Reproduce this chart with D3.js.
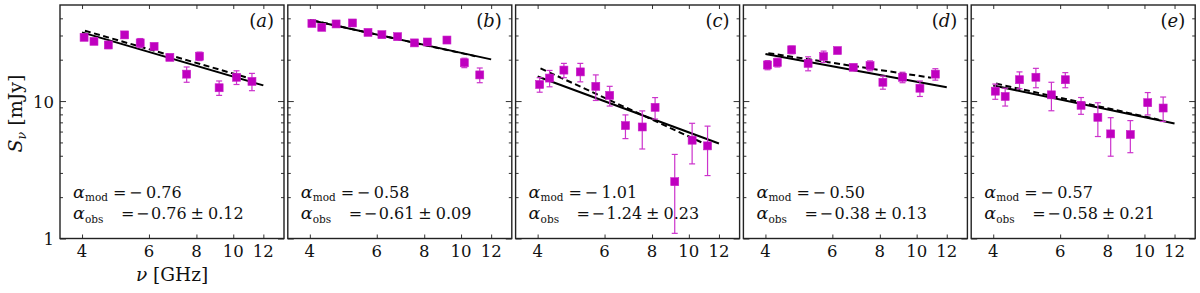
<!DOCTYPE html>
<html><head><meta charset="utf-8">
<script src="https://cdn.jsdelivr.net/npm/d3@7"></script>
<style>
html,body{margin:0;padding:0;background:#fff;}
svg{display:block;}
text{font-family:"DejaVu Serif",serif;fill:#111;}
</style></head>
<body>
<svg id="chart" width="1200" height="293"></svg>
<script>
// ---- data ----
const freqs = [4.05, 4.3, 4.69, 5.18, 5.69, 6.19, 6.81, 7.54, 8.15, 9.18, 10.2, 11.2];
const panelLabels = ["a", "b", "c", "d", "e"];
const fluxA = [29.1, 27.2, 25.6, 30.3, 26.5, 25.0, 20.8, 15.7, 21.2, 12.5, 14.9, 13.9];
const errA  = [1.2, 1.2, 1.5, 1.5, 2.0, 1.2, 1.0, 2.0, 1.5, 1.5, 1.7, 2.0];
const fluxB = [36.7, 34.4, 36.4, 37.0, 31.6, 30.4, 29.4, 26.5, 26.9, 27.8, 19.0, 15.5];
const errB  = [1.0, 1.0, 0.8, 1.0, 1.2, 0.8, 0.8, 1.0, 0.8, 0.8, 1.5, 1.9];
const fluxC = [13.2, 14.7, 16.8, 16.3, 12.8, 11.0, 6.63, 6.48, 9.0, 2.59, 5.19, 4.72];
const errC  = [1.6, 2.0, 2.0, 2.5, 2.7, 1.8, 1.3, 2.0, 1.6, 1.5, 1.7, 1.85];
const fluxD = [18.3, 19.1, 23.6, 18.8, 21.1, 23.3, 17.6, 18.1, 13.7, 14.9, 12.4, 15.7];
const errD  = [1.4, 1.4, 1.5, 2.2, 2.0, 0.8, 0.8, 1.5, 1.5, 1.3, 1.6, 1.5];
const fluxE = [11.8, 10.8, 14.3, 14.9, 11.1, 14.3, 9.31, 7.62, 5.77, 5.71, 9.73, 8.90];
const errE  = [1.5, 1.6, 2.0, 2.4, 2.6, 1.8, 1.3, 2.1, 1.8, 1.5, 1.8, 1.8];
// model (solid) line: flux at start / end frequency
const modelFreqRange = [4, 12];
const modelStart = [31.6, 38.9, 15.1, 22.0, 13.0];
const modelEnd   = [13.0, 20.1, 4.91, 12.6, 6.86];
// observed fit (dashed) line
const obsFreqRange = [4.07, 10.9];
const obsStart = [32.5, 38.6, 17.3, 22.3, 13.4];
const obsEnd   = [14.8, 21.2, 4.95, 14.8, 7.33];
// spectral indices
const alphaMod = [-0.76, -0.58, -1.01, -0.50, -0.57];
const alphaObs = [-0.76, -0.61, -1.24, -0.38, -0.58];
const alphaObsErr = [0.12, 0.09, 0.23, 0.13, 0.21];
// ticks
const xTicks = [4, 6, 8, 10, 12];
const yMajor = [1, 10];
const yMinor = [2, 3, 4, 5, 6, 7, 8, 9, 20, 30, 40];

const fluxes = [fluxA, fluxB, fluxC, fluxD, fluxE];
const errs = [errA, errB, errC, errD, errE];

// ---- layout ----
const left0 = 60, step = 227.8, pw = 224, yTop = 5, yBottom = 238.5;
const svg = d3.select("#chart");
const y = d3.scaleLog().domain([1, 50]).range([yBottom, yTop]);
const fmt = v => Math.abs(v).toFixed(2);
const MAG = "#bf00bf", ERRC = "#cc33cc";

panelLabels.forEach((lab, i) => {
  const L = left0 + i * step;
  const x = d3.scaleLog().domain([3.5, 13.6]).range([L, L + pw]);
  const g = svg.append("g");

  const tickStyle = sel => { sel.select(".domain").remove(); sel.selectAll("line").attr("stroke", "#333").attr("stroke-width", 1); sel.selectAll("text").remove(); };
  g.append("g").attr("transform", `translate(0,${yBottom})`)
    .call(d3.axisTop(x).tickValues(xTicks).tickSize(4)).call(tickStyle);
  g.append("g").attr("transform", `translate(0,${yTop})`)
    .call(d3.axisBottom(x).tickValues(xTicks).tickSize(4)).call(tickStyle);
  g.append("g").attr("transform", `translate(${L},0)`)
    .call(d3.axisRight(y).tickValues(yMajor).tickSize(6)).call(tickStyle);
  g.append("g").attr("transform", `translate(${L},0)`)
    .call(d3.axisRight(y).tickValues(yMinor).tickSize(3)).call(tickStyle);
  g.append("g").attr("transform", `translate(${L + pw},0)`)
    .call(d3.axisLeft(y).tickValues(yMajor).tickSize(6)).call(tickStyle);
  g.append("g").attr("transform", `translate(${L + pw},0)`)
    .call(d3.axisLeft(y).tickValues(yMinor).tickSize(3)).call(tickStyle);

  g.selectAll(".xl").data(xTicks).join("text")
    .attr("x", d => x(d)).attr("y", 257).attr("text-anchor", "middle")
    .attr("font-size", 16.5).text(d => d);

  const line = d3.line().x(d => x(d[0])).y(d => y(d[1]));
  g.append("path").datum([[modelFreqRange[0], modelStart[i]], [modelFreqRange[1], modelEnd[i]]])
    .attr("d", line).attr("fill", "none").attr("stroke", "#000").attr("stroke-width", 2);
  g.append("path").datum([[obsFreqRange[0], obsStart[i]], [obsFreqRange[1], obsEnd[i]]])
    .attr("d", line).attr("fill", "none").attr("stroke", "#000").attr("stroke-width", 2)
    .attr("stroke-dasharray", "6,3.5");

  const pts = freqs.map((f, k) => ({ f, v: fluxes[i][k], e: errs[i][k] }));
  const lo = d => y(Math.max(d.v - d.e, 1.001));
  const eb = g.append("g").attr("stroke", ERRC).attr("stroke-width", 1.2);
  eb.selectAll(".v").data(pts).join("line")
    .attr("x1", d => x(d.f)).attr("x2", d => x(d.f))
    .attr("y1", d => y(d.v + d.e)).attr("y2", lo);
  eb.selectAll(".ct").data(pts).join("line")
    .attr("x1", d => x(d.f) - 3).attr("x2", d => x(d.f) + 3)
    .attr("y1", d => y(d.v + d.e)).attr("y2", d => y(d.v + d.e));
  eb.selectAll(".cb").data(pts).join("line")
    .attr("x1", d => x(d.f) - 3).attr("x2", d => x(d.f) + 3)
    .attr("y1", lo).attr("y2", lo);
  g.selectAll(".m").data(pts).join("rect")
    .attr("x", d => x(d.f) - 4).attr("y", d => y(d.v) - 4)
    .attr("width", 8).attr("height", 8).attr("fill", MAG)
    .attr("stroke", "#c820c8").attr("stroke-width", 0.6);

  g.append("rect").attr("x", L).attr("y", yTop).attr("width", pw).attr("height", yBottom - yTop)
    .attr("fill", "none").attr("stroke", "#222").attr("stroke-width", 1.4);

  const pl = g.append("text").attr("x", L + pw - 10).attr("y", 27).attr("text-anchor", "end").attr("font-size", 18);
  pl.append("tspan").text("(");
  pl.append("tspan").attr("font-style", "italic").text(lab);
  pl.append("tspan").text(")");

  const t1 = g.append("text").attr("y", 197.7).attr("font-size", 16);
  t1.append("tspan").attr("x", L + 13).attr("font-style", "italic").attr("font-size", 17.5).text("α");
  t1.append("tspan").attr("x", L + 25).attr("dy", 3.5).attr("font-size", 10.5).text("mod");
  t1.append("tspan").attr("x", L + 53).attr("dy", -3.5).text("=");
  t1.append("tspan").attr("x", L + 69).text("−");
  t1.append("tspan").attr("x", L + 86).text(fmt(alphaMod[i]));

  const t2 = g.append("text").attr("y", 219.3).attr("font-size", 16);
  t2.append("tspan").attr("x", L + 13).attr("font-style", "italic").attr("font-size", 17.5).text("α");
  t2.append("tspan").attr("x", L + 25).attr("dy", 3.5).attr("font-size", 10.5).text("obs");
  t2.append("tspan").attr("x", L + 61).attr("dy", -3.5).text("=");
  t2.append("tspan").attr("x", L + 76).text("−");
  t2.append("tspan").attr("x", L + 91).text(fmt(alphaObs[i]));
  t2.append("tspan").attr("x", L + 130.5).text("±");
  t2.append("tspan").attr("x", L + 148).text(alphaObsErr[i].toFixed(2));
});

svg.selectAll(".yl").data(yMajor).join("text")
  .attr("x", 54).attr("y", d => y(d) + 6.5).attr("text-anchor", "end")
  .attr("font-size", 16.5).text(d => d);

const xl = svg.append("text").attr("x", left0 + pw / 2).attr("y", 281).attr("text-anchor", "middle").attr("font-size", 18.5);
xl.append("tspan").attr("font-style", "italic").text("ν");
xl.append("tspan").text(" [GHz]");

const yl = svg.append("text").attr("transform", "translate(22,113.5) rotate(-90)").attr("text-anchor", "middle").attr("font-size", 19);
yl.append("tspan").attr("font-style", "italic").text("S");
yl.append("tspan").attr("font-style", "italic").attr("font-size", 12.5).attr("dy", 4).text("ν");
yl.append("tspan").attr("dy", -4).text(" [mJy]");
</script>
</body></html>
